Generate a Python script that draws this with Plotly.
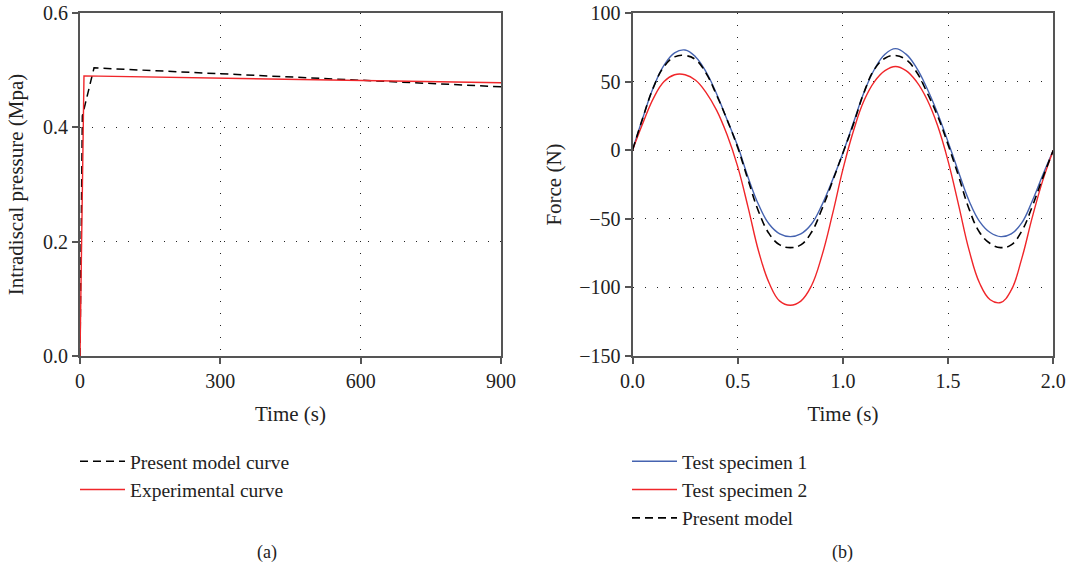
import plotly.graph_objects as go

# ---------- Panel (a) data ----------
exp_t = [0, 8.5, 900]
exp_p = [0.0, 0.490, 0.478]
model_t = [0, 5, 30, 300, 600, 900]
model_p = [0.0, 0.42, 0.504, 0.494, 0.482, 0.471]

# ---------- Panel (b) data ----------
time_b = [0.00, 0.05, 0.10, 0.15, 0.20, 0.25, 0.30, 0.35, 0.40, 0.45,
          0.50, 0.55, 0.60, 0.65, 0.70, 0.75, 0.80, 0.85, 0.90, 0.95,
          1.00, 1.05, 1.10, 1.15, 1.20, 1.25, 1.30, 1.35, 1.40, 1.45,
          1.50, 1.55, 1.60, 1.65, 1.70, 1.75, 1.80, 1.85, 1.90, 1.95, 2.00]
spec1 = [0, 24, 46, 62, 71, 73, 68, 57, 41, 22,
         3, -20, -40, -54, -61, -63, -61, -54, -40, -22,
         -2, 20, 42, 59, 70, 74, 70, 60, 45, 27,
         6, -16, -37, -52, -60, -63, -61, -53, -37, -18, 0]
spec2 = [0, 20, 38, 50, 55, 55, 51, 42, 29, 11,
         -12, -42, -74, -97, -110, -113, -110, -99, -77, -47,
         -14, 14, 36, 50, 58, 61, 58, 50, 37, 18,
         -8, -40, -73, -97, -109, -111, -102, -79, -49, -22, 0]
model_b = [0, 24, 46, 61, 68, 69, 66, 56, 40, 22,
           2, -22, -45, -61, -69, -71, -69, -60, -43, -23,
           -2, 19, 42, 59, 67, 69, 66, 57, 42, 25,
           4, -19, -43, -60, -68, -71, -69, -59, -41, -20, 0]

FONT = "Liberation Serif"
AX = "#555555"
RED = "#f0262a"
BLUE = "#4563b0"
TXT = "#222222"
W, H = 1070, 572

def px_x(p):
    return p / W

def px_y(p):
    return (H - p) / H

fig = go.Figure()

fig.add_trace(go.Scatter(x=model_t, y=model_p, mode="lines", name="Present model curve",
                         line=dict(color="black", width=1.5, dash="8px,5px"),
                         xaxis="x", yaxis="y", legend="legend"))
fig.add_trace(go.Scatter(x=exp_t, y=exp_p, mode="lines", name="Experimental curve",
                         line=dict(color=RED, width=1.4),
                         xaxis="x", yaxis="y", legend="legend"))

fig.add_trace(go.Scatter(x=time_b, y=spec1, mode="lines", name="Test specimen 1",
                         line=dict(color=BLUE, width=1.4, shape="spline", smoothing=1.2),
                         xaxis="x2", yaxis="y2", legend="legend2"))
fig.add_trace(go.Scatter(x=time_b, y=spec2, mode="lines", name="Test specimen 2",
                         line=dict(color=RED, width=1.4, shape="spline", smoothing=1.2),
                         xaxis="x2", yaxis="y2", legend="legend2"))
fig.add_trace(go.Scatter(x=time_b, y=model_b, mode="lines", name="Present model",
                         line=dict(color="black", width=1.6, dash="8px,5px", shape="spline", smoothing=1.2),
                         xaxis="x2", yaxis="y2", legend="legend2"))

axis_common = dict(showline=True, linecolor=AX, linewidth=2, mirror=True,
                   ticks="outside", ticklen=6, tickwidth=1.5, tickcolor=AX,
                   showgrid=True, gridcolor="#222222", gridwidth=1, griddash="1px,11px",
                   zeroline=False, automargin=False, ticklabeloverflow="allow",
                   tickfont=dict(family=FONT, size=20, color=TXT),
                   title_font=dict(family=FONT, size=21, color=TXT))

ydom = [px_y(356), px_y(13)]

fig.update_layout(
    width=W, height=H,
    margin=dict(l=0, r=0, t=0, b=0, autoexpand=False),
    paper_bgcolor="white", plot_bgcolor="white",
    font=dict(family=FONT, size=20, color=TXT),
    xaxis=dict(domain=[px_x(80), px_x(501)], range=[0, 900], tickvals=[0, 300, 600, 900],
               title=dict(text="Time (s)", standoff=15), anchor="y", **axis_common),
    yaxis=dict(domain=ydom, range=[0, 0.6], tickvals=[0, 0.2, 0.4, 0.6], tickformat=".1f",
               title=dict(text="Intradiscal pressure (Mpa)", standoff=14), anchor="x", **axis_common),
    xaxis2=dict(domain=[px_x(632.5), px_x(1053.3)], range=[0, 2], tickvals=[0, 0.5, 1.0, 1.5, 2.0],
                tickformat=".1f", title=dict(text="Time (s)", standoff=15), anchor="y2", **axis_common),
    yaxis2=dict(domain=ydom, range=[-150, 100], tickvals=[-150, -100, -50, 0, 50, 100],
                title=dict(text="Force (N)", standoff=12), anchor="x2", **axis_common),
    legend=dict(x=px_x(75), y=px_y(442), xanchor="left", yanchor="top",
                bgcolor="rgba(0,0,0,0)", font=dict(family=FONT, size=19.5, color=TXT),
                itemwidth=45, tracegroupgap=0),
    legend2=dict(x=px_x(627), y=px_y(442), xanchor="left", yanchor="top",
                 bgcolor="rgba(0,0,0,0)", font=dict(family=FONT, size=19.5, color=TXT),
                 itemwidth=45, tracegroupgap=0),
    annotations=[
        dict(text="(a)", x=px_x(267), y=px_y(552), xref="paper", yref="paper",
             xanchor="center", yanchor="middle",
             showarrow=False, font=dict(family=FONT, size=18, color=TXT)),
        dict(text="(b)", x=px_x(842), y=px_y(552), xref="paper", yref="paper",
             xanchor="center", yanchor="middle",
             showarrow=False, font=dict(family=FONT, size=18, color=TXT)),
    ],
)

fig.write_html("out.html", config={"displayModeBar": False},
               post_script="document.body.style.margin='0';document.body.style.overflow='hidden';")
